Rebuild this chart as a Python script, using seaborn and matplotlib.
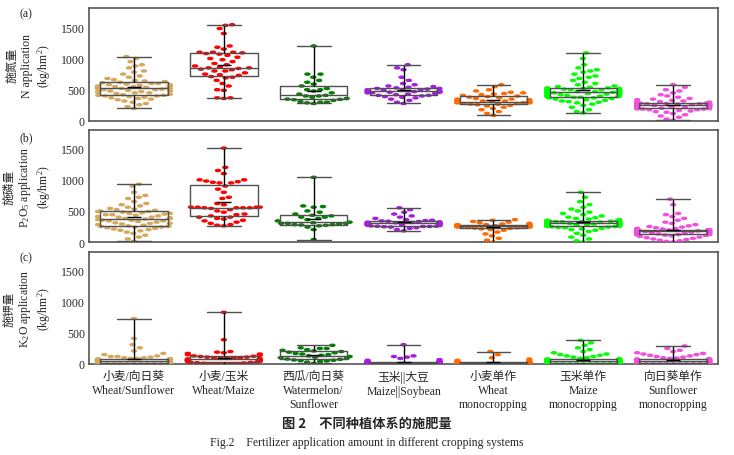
import warnings
import numpy as np
import pandas as pd
import matplotlib
matplotlib.use("Agg")
import matplotlib.pyplot as plt
import matplotlib.transforms as mtransforms
from matplotlib.path import Path
import seaborn as sns

warnings.filterwarnings("ignore")

# cropping systems (x categories)
SYSTEMS = ["小麦/向日葵\nWheat/Sunflower", "小麦/玉米\nWheat/Maize",
           "西瓜/向日葵\nWatermelon/\nSunflower", "玉米||大豆\nMaize||Soybean",
           "小麦单作\nWheat\nmonocropping", "玉米单作\nMaize\nmonocropping",
           "向日葵单作\nSunflower\nmonocropping"]
COLORS = ["#D4A95E", "#FF0000", "#008000", "#A61CE0", "#FF6A00", "#00FF00", "#F250DC"]

# --- N application (kg/hm2) ---
N_WS = [200, 230, 260, 280, 300, 320, 340, 350, 360, 370, 380, 390, 400, 400, 410, 410,
        420, 430, 440, 450, 450, 460, 470, 480, 480, 490, 500, 500, 510, 510, 520, 520,
        530, 530, 540, 540, 550, 550, 560, 560, 570, 580, 580, 590, 600, 600, 610, 620,
        630, 640, 650, 660, 680, 700, 720, 750, 780, 800, 850, 880, 900, 950, 1000, 1030]
N_WM = [360, 370, 370, 490, 500, 560, 600, 650, 690, 700, 710,
        730, 740, 750, 770, 800, 800, 820, 830, 840, 850, 850,
        860, 880, 900, 920, 950, 980, 1000, 1020, 1050, 1070, 1080,
        1090, 1100, 1100, 1100, 1150, 1180, 1200, 1400, 1480, 1530, 1540]
N_WMS = [280, 290, 300, 300, 310, 330, 340, 345, 350, 360, 380, 400, 400, 410,
         430, 450, 480, 500, 500, 520, 560, 590, 620, 650, 700, 750, 750, 1200]
N_MS = [280, 300, 330, 350, 370, 380, 390, 400, 410, 410,
        420, 430, 440, 450, 450, 460, 460, 470, 470, 470,
        480, 480, 490, 490, 500, 500, 510, 520, 520, 530,
        540, 550, 560, 580, 600, 650, 700, 820, 850, 900]
N_WMONO = [90, 120, 150, 180, 200, 220, 240, 250, 260, 270, 270,
           280, 280, 290, 290, 290, 300, 300, 300, 300, 310, 310,
           310, 320, 320, 330, 340, 350, 350, 360, 370, 380, 390,
           400, 410, 420, 430, 440, 450, 460, 480, 500, 550, 580]
N_MMONO = [130, 150, 180, 220, 250, 270, 290, 300, 310, 320, 330, 340, 350, 360, 370, 370, 380, 380,
           390, 390, 400, 400, 410, 410, 420, 420, 430, 430, 440, 440, 450, 450, 450, 460, 460, 460,
           470, 470, 470, 480, 480, 480, 490, 490, 490, 500, 500, 500, 510, 510, 520, 520, 530, 530,
           540, 550, 560, 580, 600, 620, 650, 680, 700, 720, 750, 780, 800, 820, 850, 900, 1000, 1090]
N_SMONO = [10, 30, 60, 80, 100, 120, 140, 150, 160, 170, 180, 180, 190, 190, 195, 200, 200, 200,
           205, 210, 210, 215, 220, 220, 225, 230, 230, 235, 240, 240, 245, 245, 250, 250, 250, 250,
           255, 255, 260, 260, 260, 265, 265, 270, 270, 270, 275, 275, 280, 280, 280, 285, 285, 285,
           290, 295, 300, 300, 310, 320, 330, 340, 350, 360, 380, 400, 420, 450, 480, 500, 540, 580]

# --- P2O5 application (kg/hm2), panel (b) ---
P_WS = [10, 50, 80, 110, 140, 160, 180, 190, 200, 210, 220, 230, 240, 240, 250, 250,
        260, 270, 280, 290, 300, 300, 310, 320, 330, 340, 340, 350, 350, 360, 370, 370,
        380, 390, 400, 400, 410, 420, 430, 440, 440, 450, 460, 460, 470, 480, 490, 490,
        500, 510, 520, 530, 540, 560, 580, 600, 620, 650, 700, 720, 750, 800, 900, 930]
P_WM = [260, 270, 280, 300, 320, 340, 350, 370, 380, 400, 400,
        420, 440, 450, 480, 500, 520, 540, 550, 550, 550, 550,
        560, 560, 560, 560, 600, 620, 700, 720, 800, 850, 900,
        950, 950, 960, 970, 980, 1000, 1000, 1100, 1150, 1200, 1510]
P_WMS = [40, 200, 240, 260, 270, 275, 280, 280, 290, 300, 300, 300, 310, 320,
         340, 360, 380, 400, 400, 420, 430, 450, 480, 500, 560, 570, 580, 1040]
P_MS = [180, 200, 220, 230, 240, 245, 250, 250, 255, 255,
        260, 265, 270, 275, 280, 285, 290, 290, 295, 300,
        300, 305, 310, 310, 315, 320, 325, 330, 335, 340,
        345, 350, 360, 380, 400, 420, 450, 480, 520, 550]
P_WMONO = [0, 30, 60, 100, 130, 160, 190, 200, 210, 220, 225,
           230, 235, 240, 240, 240, 245, 245, 250, 250, 250, 250,
           250, 255, 255, 260, 260, 260, 265, 265, 265, 265, 270,
           270, 275, 280, 280, 290, 300, 310, 320, 330, 350, 360]
P_MMONO = [0, 20, 50, 80, 110, 140, 170, 190, 200, 210, 220, 230, 235, 240, 245, 250, 250, 255,
           255, 260, 260, 265, 265, 270, 270, 275, 275, 280, 280, 285, 285, 290, 290, 295, 295, 300,
           300, 305, 305, 310, 310, 315, 315, 320, 320, 325, 325, 330, 330, 335, 335, 340, 340, 340,
           345, 350, 360, 370, 380, 390, 400, 420, 440, 460, 480, 500, 530, 560, 600, 650, 720, 800]
P_SMONO = [0, 10, 20, 30, 40, 50, 60, 70, 80, 90, 100, 105, 110, 115, 120, 120, 125, 125,
           130, 130, 135, 135, 140, 140, 145, 145, 150, 150, 155, 155, 160, 160, 165, 165, 170, 170,
           170, 175, 175, 180, 180, 180, 185, 185, 185, 190, 190, 190, 195, 195, 195, 200, 200, 200,
           205, 210, 215, 220, 230, 240, 250, 260, 280, 300, 320, 350, 380, 410, 440, 460, 600, 690]

# --- K2O application (kg/hm2), panel (c) ---
K_WS = [0, 0, 0, 0, 0, 0, 0, 0, 0, 0, 0, 0, 0, 0, 5, 10,
        10, 15, 20, 20, 25, 30, 30, 30, 35, 35, 40, 40, 40, 40, 45, 45,
        50, 50, 50, 55, 60, 60, 60, 65, 70, 70, 70, 75, 75, 80, 80, 80,
        85, 90, 90, 100, 100, 110, 120, 120, 130, 150, 170, 210, 260, 310, 410, 730]
K_WM = [0, 0, 0, 0, 5, 10, 15, 20, 25, 30, 35,
        40, 45, 50, 50, 55, 60, 60, 65, 70, 70, 75,
        80, 80, 85, 90, 90, 95, 100, 100, 110, 110, 120,
        125, 130, 140, 150, 160, 170, 180, 190, 200, 390, 830]
K_WMS = [10, 30, 40, 50, 55, 60, 65, 75, 80, 90, 100, 110, 120, 130,
         140, 150, 160, 170, 180, 190, 200, 210, 220, 230, 250, 250, 260, 300]
K_MS = [0, 0, 0, 0, 0, 0, 0, 0, 0, 0,
        0, 0, 5, 5, 10, 10, 10, 15, 15, 15,
        20, 20, 25, 25, 30, 30, 30, 35, 35, 35,
        40, 45, 50, 60, 70, 90, 110, 120, 130, 310]
K_WMONO = [0, 0, 0, 0, 0, 0, 0, 0, 0, 0, 0,
           0, 0, 0, 0, 5, 5, 10, 10, 10, 15, 15,
           15, 20, 20, 20, 20, 25, 25, 25, 25, 25, 25,
           30, 30, 30, 35, 40, 50, 60, 80, 100, 150, 200]
K_MMONO = [0, 0, 0, 0, 0, 0, 0, 0, 0, 0, 0, 0, 0, 0, 0, 5, 5, 10,
           10, 10, 15, 15, 20, 20, 20, 25, 25, 30, 30, 30, 35, 35, 35, 40, 40, 40,
           45, 45, 45, 50, 50, 50, 55, 55, 55, 60, 60, 60, 65, 65, 70, 70, 70, 75,
           75, 80, 85, 90, 100, 110, 120, 130, 140, 150, 160, 180, 200, 230, 260, 300, 340, 380]
K_SMONO = [0, 0, 0, 0, 0, 0, 0, 0, 0, 0, 0, 0, 0, 0, 0, 5, 5, 10,
           10, 10, 15, 15, 20, 20, 20, 25, 25, 30, 30, 30, 35, 35, 35, 40, 40, 40,
           45, 45, 45, 50, 50, 50, 55, 55, 55, 60, 60, 60, 65, 65, 70, 70, 70, 75,
           75, 80, 85, 90, 95, 100, 110, 120, 130, 140, 150, 160, 170, 180, 200, 220, 250, 290]

PANELS = [
    ("(a)", "施氮量\nN application\n(kg/hm$^2$)",
     [N_WS, N_WM, N_WMS, N_MS, N_WMONO, N_MMONO, N_SMONO]),
    ("(b)", "施磷量\nP$_2$O$_5$ application\n(kg/hm$^2$)",
     [P_WS, P_WM, P_WMS, P_MS, P_WMONO, P_MMONO, P_SMONO]),
    ("(c)", "施钾量\nK$_2$O application\n(kg/hm$^2$)",
     [K_WS, K_WM, K_WMS, K_MS, K_WMONO, K_MMONO, K_SMONO]),
]

sns.set_style("white")
plt.rcParams["font.family"] = ["Liberation Serif", "Noto Sans CJK SC"]
plt.rcParams["mathtext.fontset"] = "custom"
plt.rcParams["mathtext.rm"] = "Liberation Serif"
plt.rcParams["mathtext.it"] = "Liberation Serif:italic"
plt.rcParams["font.size"] = 8

# flat ellipse marker like the original
ellipse = Path.unit_circle().transformed(mtransforms.Affine2D().scale(1.0, 0.42))

fig = plt.figure(figsize=(7.34, 4.56), dpi=100)
boxes = [(0.1213, 0.7325, 0.857, 0.2467),
         (0.1213, 0.4670, 0.857, 0.2457),
         (0.1213, 0.1996, 0.857, 0.2456)]
letter_y = [0.962, 0.690, 0.428]

for i, (letter, ylab, vals) in enumerate(PANELS):
    ax = fig.add_axes(boxes[i])
    df = pd.DataFrame({
        "system": np.repeat(SYSTEMS, [len(v) for v in vals]),
        "value": np.concatenate(vals).astype(float),
    })
    # small swarm size keeps the cloud compact; the edge makes each dot look bigger
    sns.swarmplot(data=df, x="system", y="value", hue="system", order=SYSTEMS,
                  hue_order=SYSTEMS, palette=COLORS, size=3.6, marker=ellipse,
                  linewidth=1.0, edgecolor="face", legend=False, ax=ax)
    sns.boxplot(data=df, x="system", y="value", order=SYSTEMS, whis=(0, 100),
                width=0.75, fill=False, color="#505050", linewidth=1.0,
                showfliers=False, showmeans=True,
                meanprops=dict(marker="_", markersize=10, markeredgecolor="black",
                               markeredgewidth=1.0),
                whiskerprops=dict(color="black"), zorder=4, ax=ax)

    ax.set_ylim(0, 1800)
    ax.set_xlim(-0.5, 6.5)
    ax.set_yticks([0, 500, 1000, 1500])
    ax.set_xlabel("")
    ax.set_ylabel(ylab, linespacing=1.15, fontsize=8.5, labelpad=6)
    ax.tick_params(axis="x", direction="in", length=3, width=1, color="black")
    ax.tick_params(axis="y", length=0, pad=3, labelsize=8.5)
    if i < 2:
        ax.tick_params(labelbottom=False)
    else:
        ax.tick_params(axis="x", labelsize=8.5, pad=4)
        for t in ax.get_xticklabels():
            t.set_linespacing(1.25)
    for sp in ax.spines.values():
        sp.set_color("#555555")
        sp.set_linewidth(1.2)
    fig.text(0.027, letter_y[i], letter, fontsize=8.5)

fig.text(0.5, 0.062, "图 2　不同种植体系的施肥量", ha="center", fontsize=9.5,
         family=["Noto Sans CJK SC"], weight="bold")
fig.text(0.5, 0.022, "Fig.2　Fertilizer application amount in different cropping systems",
         ha="center", fontsize=8.5)

fig.savefig("out.png", dpi=100, facecolor="white")
